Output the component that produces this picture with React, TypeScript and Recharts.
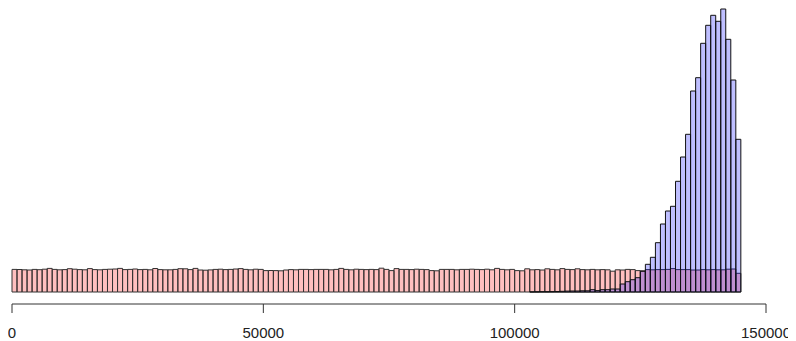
import React from 'react';
import { BarChart, Bar, XAxis, YAxis } from 'recharts';

// histogram bins, 1000 wide, starting at 0
const BIN_WIDTH = 1000;
const BIN_COUNT = 150;

// counts per bin (pink = flat sample, blue = peaked sample)
const pinkCounts = [
    226, 225, 222, 220, 226, 223, 228, 236, 226, 222,
    224, 233, 228, 224, 222, 234, 224, 222, 226, 228,
    230, 236, 224, 226, 230, 224, 226, 222, 235, 224,
    222, 222, 226, 233, 232, 224, 236, 220, 218, 221,
    226, 228, 224, 226, 230, 234, 226, 222, 228, 226,
    214, 215, 214, 212, 220, 224, 222, 226, 226, 224,
    226, 226, 226, 222, 226, 236, 226, 222, 228, 226,
    224, 226, 224, 238, 226, 214, 234, 226, 226, 224,
    228, 226, 224, 214, 212, 226, 226, 226, 222, 226,
    226, 228, 226, 224, 228, 222, 236, 226, 222, 226,
    214, 212, 232, 222, 224, 220, 232, 226, 222, 234,
    226, 224, 232, 224, 222, 226, 222, 224, 222, 208,
    222, 220, 226, 224, 214, 212, 224, 222, 224, 224,
    226, 234, 224, 224, 224, 220, 220, 224, 222, 224,
    222, 222, 228, 230, 187,
];

const blueCounts = [
    0, 0, 0, 0, 0, 0, 0, 0, 0, 0,
    0, 0, 0, 0, 0, 0, 0, 0, 0, 0,
    0, 0, 0, 0, 0, 0, 0, 0, 0, 0,
    0, 0, 0, 0, 0, 0, 0, 0, 0, 0,
    0, 0, 0, 0, 0, 0, 0, 0, 0, 0,
    0, 0, 0, 0, 0, 0, 0, 0, 0, 0,
    0, 0, 0, 0, 0, 0, 0, 0, 0, 0,
    0, 0, 0, 0, 0, 0, 0, 0, 0, 0,
    0, 0, 0, 0, 0, 0, 0, 0, 0, 0,
    0, 0, 0, 0, 0, 0, 0, 0, 0, 0,
    0, 0, 0, 1, 2, 3, 3, 4, 5, 7,
    9, 10, 10, 12, 12, 23, 14, 23, 23, 30,
    30, 80, 103, 123, 143, 207, 277, 347, 493, 680,
    810, 857, 1107, 1350, 1577, 2010, 2143, 2487, 2667, 2767,
    2707, 2830, 2527, 2120, 1527,
];

const xTicks = [0, 50000, 100000, 150000];

const chartData = Array.from({ length: BIN_COUNT }, (_, i) => ({
    bin: i,
    start: i * BIN_WIDTH,
    pink: i < pinkCounts.length ? pinkCounts[i] : null,
    blue: i < blueCounts.length ? blueCounts[i] : null,
}));

export default function App() {
    return (
        <div style={{ margin: '-8px 0 0 -8px', width: 796, height: 341, background: '#fff' }}>
            <BarChart
                width={796}
                height={341}
                data={chartData}
                barCategoryGap={0}
                barGap={0}
                margin={{ top: 5, right: 30, left: 12, bottom: 0 }}
                style={{ fontFamily: '"Liberation Sans", Arial, sans-serif' }}
            >
                {/* visible R-style axis, drawn first so it sits right under the plot */}
                <XAxis
                    xAxisId="v"
                    dataKey="start"
                    type="number"
                    domain={[0, 150000]}
                    allowDataOverflow
                    ticks={xTicks}
                    interval={0}
                    height={37}
                    tickSize={9}
                    tickMargin={14}
                    stroke="#333"
                    tick={{ fontSize: 15, fill: '#222' }}
                />
                <XAxis xAxisId="p" dataKey="bin" type="category" height={0} hide />
                <XAxis xAxisId="b" dataKey="bin" type="category" height={0} hide />
                <YAxis domain={[-120, 2870]} allowDataOverflow hide />
                <Bar
                    xAxisId="p"
                    dataKey="pink"
                    fill="#ff0000"
                    fillOpacity={0.25}
                    stroke="#333"
                    strokeWidth={1}
                    isAnimationActive={false}
                />
                <Bar
                    xAxisId="b"
                    dataKey="blue"
                    fill="#0000ff"
                    fillOpacity={0.25}
                    stroke="#111"
                    strokeWidth={1}
                    isAnimationActive={false}
                />
            </BarChart>
        </div>
    );
}
